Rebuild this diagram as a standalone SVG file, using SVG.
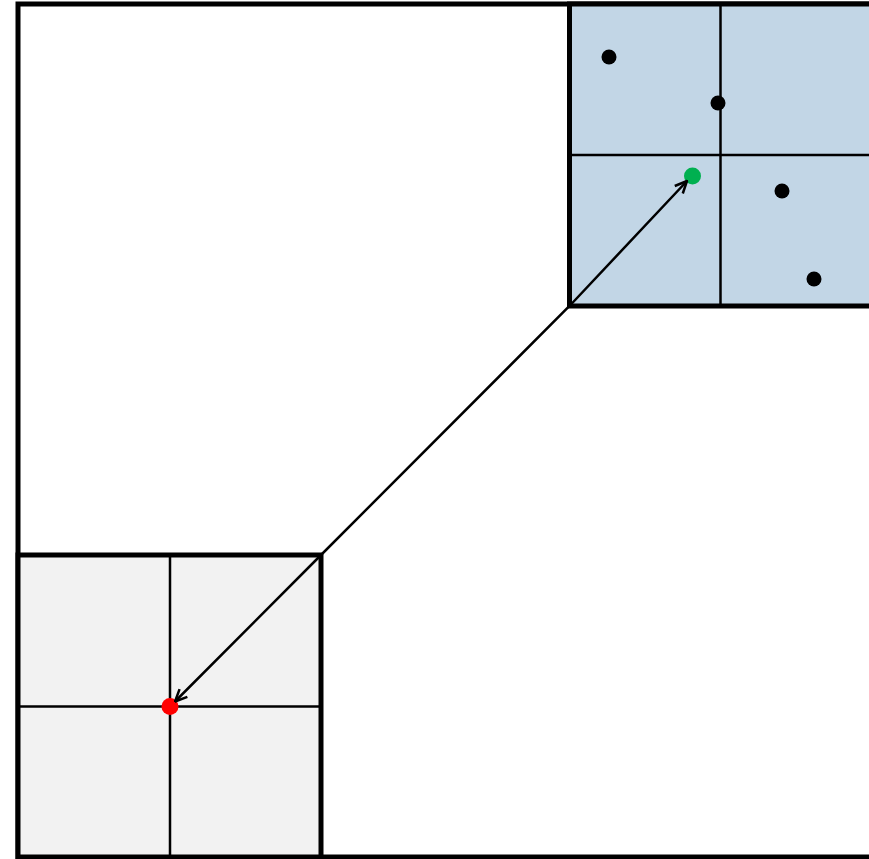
<svg xmlns="http://www.w3.org/2000/svg" width="869" height="859" viewBox="0 0 869 859">
<style>
.frame{fill:#FFFFFF;stroke:#000;stroke-width:5}
.box{stroke:#000;stroke-width:5}
.grid{stroke:#000;stroke-width:2.5;fill:none}
.pt{fill:#000}
.conn{stroke:#000;stroke-width:2.5;fill:none}
</style>
<defs>
<marker id="open" viewBox="0 0 14 14" refX="13" refY="7" markerWidth="14" markerHeight="14" markerUnits="userSpaceOnUse" orient="auto-start-reverse">
<path d="M1 1.5 L13 7 L1 12.5" fill="none" stroke="#000" stroke-width="2.5"/>
</marker>
</defs>
<g id="frame"><rect class="frame" x="18" y="4" width="900" height="853"/></g>
<g id="blue-box">
<rect class="box" x="569.5" y="4" width="302" height="302" fill="#C2D6E6"/>
<line class="grid" x1="720.5" y1="4" x2="720.5" y2="306"/>
<line class="grid" x1="569.5" y1="155" x2="871.5" y2="155"/>
</g>
<g id="gray-box">
<rect class="box" x="18" y="555" width="303" height="302" fill="#F2F2F2"/>
<line class="grid" x1="170" y1="555" x2="170" y2="857"/>
<line class="grid" x1="18" y1="706.5" x2="321" y2="706.5"/>
</g>
<g id="points">
<circle class="pt" cx="609" cy="57" r="7.5"/>
<circle class="pt" cx="718" cy="103" r="7.5"/>
<circle class="pt" cx="782" cy="191" r="7.5"/>
<circle class="pt" cx="814" cy="279" r="7.5"/>
<circle cx="692.5" cy="176" r="8.5" fill="#00B050"/>
<circle cx="170" cy="706.5" r="8.5" fill="#FF0000"/>
</g>
<g id="connectors">
<path class="conn" d="M175 701.5 L321 555 L569.5 306 L687 181" marker-start="url(#open)" marker-end="url(#open)"/>
</g>
</svg>
